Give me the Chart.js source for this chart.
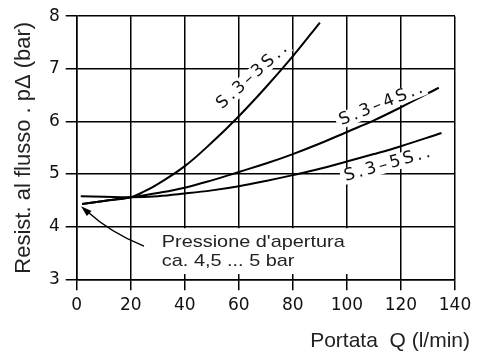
<!DOCTYPE html>
<html>
<head>
<meta charset="utf-8">
<script src="https://cdn.jsdelivr.net/npm/chart.js@4.4.1/dist/chart.umd.min.js"></script>
<style>
  html, body { margin: 0; padding: 0; background: #fff; }
</style>
</head>
<body>
<canvas id="myChart" width="488" height="355"></canvas>
<script>
// axis ticks
const flowTicks = [0, 20, 40, 60, 80, 100, 120, 140];
const pressureTicks = [3, 4, 5, 6, 7, 8];

// Q (l/min) and p-delta (bar)
const flow3S = [2, 10, 20, 25, 30, 40, 50, 60, 70, 80, 90];
const dp3S = [4.43, 4.49, 4.56, 4.67, 4.81, 5.15, 5.6, 6.1, 6.65, 7.24, 7.88];

const flow4S = [2, 10, 20, 30, 40, 50, 60, 70, 80, 90, 100, 110, 120, 134];
const dp4S = [4.43, 4.49, 4.56, 4.64, 4.74, 4.88, 5.04, 5.2, 5.38, 5.58, 5.8, 6.02, 6.27, 6.64];

const flow5S = [1.5, 10, 20, 30, 40, 50, 60, 70, 80, 90, 100, 110, 120, 135];
const dp5S = [4.58, 4.57, 4.56, 4.58, 4.63, 4.69, 4.77, 4.87, 4.98, 5.1, 5.24, 5.38, 5.53, 5.78];

const seriesNames = ["S.3–3S..", "S.3–4S..", "S.3–5S.."];
const noteLines = ["Pressione d'apertura", "ca. 4,5 ... 5 bar"];
const xTitle = "Portata  Q (l/min)";
const yTitle = "Resist. al flusso . pΔ (bar)";

const techFont = "'DejaVu Sans', sans-serif";
const textFont = "'Liberation Sans', Arial, sans-serif";

const toPoints = (xs, ys) => xs.map((x, i) => ({ x: x, y: ys[i] }));

const curve = (name, xs, ys) => ({
  label: name,
  data: toPoints(xs, ys),
  showLine: true,
  fill: false,
  borderColor: "#000",
  borderWidth: 2,
  pointRadius: 0,
  tension: 0.4,
});

// labels, arrow, note and x title drawn on top of the grid
const notes = {
  id: "notes",
  afterDatasetsDraw(chart) {
    const ctx = chart.ctx;
    const xs = chart.scales.x;
    const ys = chart.scales.y;
    const px = (v) => xs.getPixelForValue(v);
    const py = (v) => ys.getPixelForValue(v);

    ctx.save();

    // white box behind the note
    ctx.fillStyle = "#fff";
    const bx0 = px(27), bx1 = px(103), by0 = py(3.97), by1 = py(3.1);
    ctx.fillRect(bx0, by0, bx1 - bx0, by1 - by0);

    // curve names
    const spots = [
      { x: 64.9, y: 6.855, angle: -42 },
      { x: 112.6, y: 6.32, angle: -22 },
      { x: 114.9, y: 5.18, angle: -16 },
    ];
    ctx.font = "17px " + techFont;
    if ("letterSpacing" in ctx) ctx.letterSpacing = "3px";
    ctx.textAlign = "center";
    ctx.textBaseline = "middle";
    spots.forEach((s, i) => {
      const w = ctx.measureText(seriesNames[i]).width;
      ctx.save();
      ctx.translate(px(s.x), py(s.y));
      ctx.rotate((s.angle * Math.PI) / 180);
      ctx.fillStyle = "#fff";
      ctx.fillRect(-w / 2 - 2, -8, w + 4, 16);
      ctx.fillStyle = "#111";
      ctx.fillText(seriesNames[i], 1.5, 0);
      ctx.restore();
    });
    if ("letterSpacing" in ctx) ctx.letterSpacing = "0px";

    // arrow to the opening pressure
    const tx = px(24.9), ty = py(3.63);
    const cx = px(12.3), cy = py(3.895);
    const hx = px(1.6), hy = py(4.39);
    ctx.strokeStyle = "#000";
    ctx.lineWidth = 1.4;
    ctx.beginPath();
    ctx.moveTo(tx, ty);
    ctx.quadraticCurveTo(cx, cy, hx + 6, hy + 5);
    ctx.stroke();
    const ang = Math.atan2(hy - cy, hx - cx);
    ctx.fillStyle = "#000";
    ctx.beginPath();
    ctx.moveTo(hx, hy);
    ctx.lineTo(hx - 11 * Math.cos(ang) + 3.5 * Math.sin(ang), hy - 11 * Math.sin(ang) - 3.5 * Math.cos(ang));
    ctx.lineTo(hx - 11 * Math.cos(ang) - 3.5 * Math.sin(ang), hy - 11 * Math.sin(ang) + 3.5 * Math.cos(ang));
    ctx.closePath();
    ctx.fill();

    // note text, a bit wide like the original
    ctx.fillStyle = "#222";
    ctx.font = "17px " + textFont;
    ctx.textAlign = "left";
    ctx.textBaseline = "alphabetic";
    noteLines.forEach((t, i) => {
      ctx.save();
      ctx.translate(px(31.5), py(3.61) + i * 18.6);
      ctx.scale(1.17, 1);
      ctx.fillText(t, 0, 0);
      ctx.restore();
    });

    // x title, right of the axis end
    ctx.font = "21px " + textFont;
    ctx.textAlign = "right";
    ctx.fillText(xTitle, xs.right + 15, 346.7);

    ctx.restore();
  },
};

new Chart("myChart", {
  type: "scatter",
  data: {
    datasets: [
      curve(seriesNames[0], flow3S, dp3S),
      curve(seriesNames[1], flow4S, dp4S),
      curve(seriesNames[2], flow5S, dp5S),
    ],
  },
  options: {
    responsive: false,
    animation: false,
    devicePixelRatio: 1,
    layout: { padding: { top: 15, right: 33, left: 0, bottom: 0 } },
    plugins: {
      legend: { display: false },
      tooltip: { enabled: false },
    },
    scales: {
      x: {
        type: "linear",
        min: 0,
        max: 140,
        afterBuildTicks: (s) => {
          s.ticks = flowTicks.map((v) => ({ value: v }));
        },
        afterFit: (s) => {
          s.height = 75.7;
        },
        grid: { color: "#000", lineWidth: 1.5, tickLength: 11, tickColor: "#000" },
        border: { color: "#000", width: 1.5 },
        ticks: {
          color: "#111",
          padding: 5,
          maxRotation: 0,
          font: { family: techFont, size: 17 },
        },
      },
      y: {
        type: "linear",
        min: 3,
        max: 8,
        afterBuildTicks: (s) => {
          s.ticks = pressureTicks.map((v) => ({ value: v }));
        },
        afterFit: (s) => {
          s.width = 76.7;
        },
        grid: { color: "#000", lineWidth: 1.5, tickLength: 11, tickColor: "#000" },
        border: { color: "#000", width: 1.5 },
        ticks: {
          color: "#111",
          padding: 6,
          font: { family: techFont, size: 17 },
        },
        title: {
          display: true,
          text: yTitle,
          color: "#222",
          font: { family: textFont, size: 22 },
          padding: { top: 11, bottom: 0 },
        },
      },
    },
  },
  plugins: [notes],
});
</script>
</body>
</html>
